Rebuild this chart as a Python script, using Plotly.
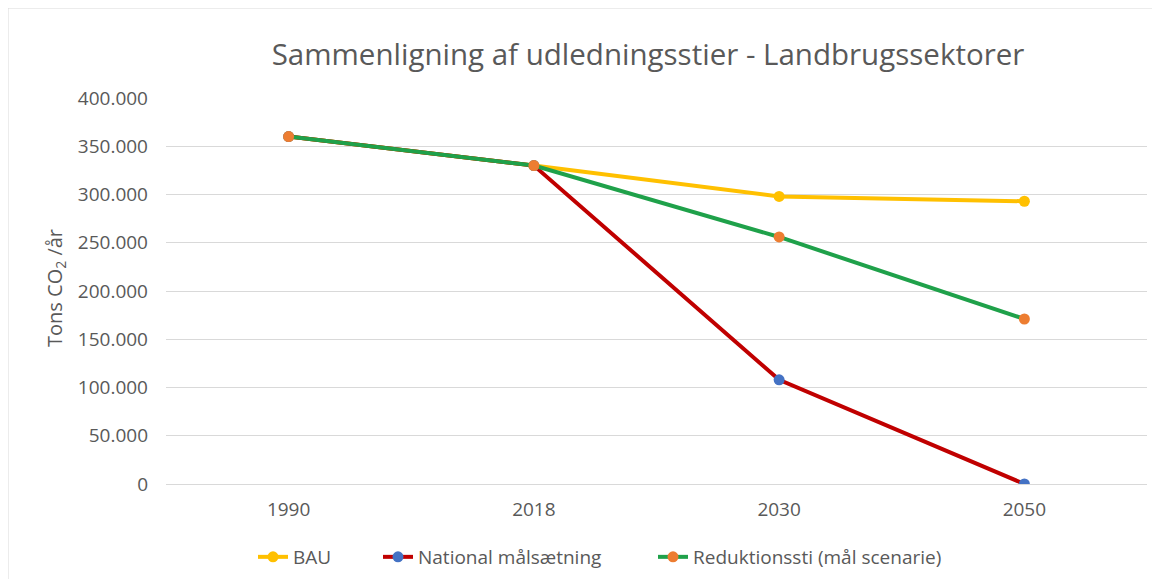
import plotly.graph_objects as go

years = ["1990", "2018", "2030", "2050"]
bau = [360000, 330000, 298000, 293000]
national = [360000, 330000, 108000, 0]
reduktion = [360000, 330000, 256000, 171000]
y_ticks = [0, 50000, 100000, 150000, 200000, 250000, 300000, 350000, 400000]

# the page body adds 8px around the figure; work in page pixels
OFF = 8
PAGE_W, PAGE_H = 1160, 587
W, H = PAGE_W - 2 * OFF, PAGE_H - 2 * OFF
PLOT_L, PLOT_R, PLOT_T, PLOT_B = 166, 1147, 98, 484  # page pixels
L, T = PLOT_L - OFF, PLOT_T - OFF
R, B = (W + OFF) - PLOT_R, (H + OFF) - PLOT_B
pw, ph = PLOT_R - PLOT_L, PLOT_B - PLOT_T
GRAY = "#595959"
FONT = "Open Sans, sans-serif"


def px_x(p):
    return (p - PLOT_L) / pw


def px_y(p):
    return (PLOT_B - p) / ph


fig = go.Figure()
series = [
    ("BAU", bau, "#FFC000", "#FFC000", "legend", 297),
    ("National målsætning", national, "#C00000", "#4472C4", "legend2", 422),
    ("Reduktionssti (mål scenarie)", reduktion, "#1FA14A", "#ED7D31", "legend3", 697),
]
legend_layouts = {}
for name, vals, lc, mc, lg, text_x in series:
    fig.add_trace(go.Scatter(
        x=years, y=vals, name=name, mode="lines+markers",
        line=dict(color=lc, width=4),
        marker=dict(color=mc, size=11),
        legend=lg,
    ))
    legend_layouts[lg] = dict(
        orientation="h", x=px_x(text_x - 44), xanchor="left",
        y=px_y(557), yanchor="middle",
        font=dict(size=19, color=GRAY, family=FONT),
        bgcolor="rgba(0,0,0,0)",
    )

fig.add_shape(type="rect", xref="paper", yref="paper",
              x0=px_x(8), x1=px_x(1300), y0=px_y(8), y1=px_y(800),
              line=dict(color="#D9D9D9", width=1), fillcolor="rgba(0,0,0,0)", layer="below")

fig.add_annotation(text="Tons CO<sub>2</sub> /år", xref="paper", yref="paper",
                   x=px_x(55), y=px_y(288), xanchor="center", yanchor="middle",
                   textangle=-90, showarrow=False,
                   font=dict(size=20, color=GRAY, family=FONT))

fig.update_layout(
    width=W, height=H,
    margin=dict(l=L, r=R, t=T, b=B, autoexpand=False),
    paper_bgcolor="white", plot_bgcolor="white",
    separators=",.",
    font=dict(family=FONT, color=GRAY, size=19),
    title=dict(text="Sammenligning af udledningsstier - Landbrugssektorer",
               x=px_x(648), xref="paper", xanchor="center",
               y=1 - (55 - OFF) / H, yanchor="middle",
               font=dict(size=29.5, color=GRAY, family=FONT)),
    xaxis=dict(type="category", range=[-0.5, 3.5], showgrid=False, showline=False,
               ticks="", automargin=False, ticklabelstandoff=12,
               tickfont=dict(size=19, color=GRAY)),
    yaxis=dict(range=[0, 400000], tickvals=y_ticks, tickformat=",d",
               showgrid=True, gridcolor="#D9D9D9", gridwidth=1,
               zeroline=True, zerolinecolor="#D9D9D9", zerolinewidth=1,
               showline=False, ticks="", automargin=False, ticklabelstandoff=17,
               tickfont=dict(size=19, color=GRAY)),
    showlegend=True,
    **legend_layouts,
)

fig.write_html("out.html")
